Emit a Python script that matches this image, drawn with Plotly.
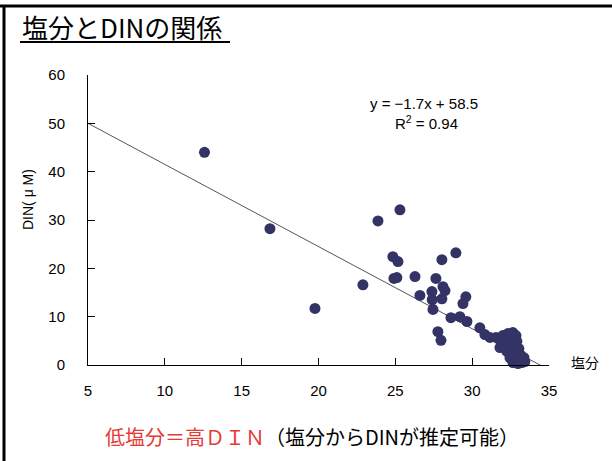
import plotly.graph_objects as go

# Salinity vs. dissolved inorganic nitrogen (DIN) observations
salinity = [
    12.58, 16.84, 19.77, 22.89, 23.87, 25.30, 24.84, 25.17, 24.91, 25.10,
    26.28, 26.60, 27.64, 28.03, 28.94, 28.10, 28.23, 27.38, 27.40, 28.03,
    27.45, 29.59, 29.40, 27.77, 27.97, 28.62, 29.20, 29.66, 30.50, 30.83,
    31.16, 31.55, 31.81, 32.00, 32.33, 32.65, 32.85, 32.20, 32.53, 32.91,
    32.07, 32.39, 32.72, 33.04, 32.26, 32.59, 32.91, 33.17, 32.46, 32.78,
    33.11, 33.37, 32.65, 32.98, 33.24, 32.33, 31.81, 33.43,
]
din = [
    44.0, 28.2, 11.7, 16.6, 29.8, 32.1, 22.4, 21.4, 17.9, 18.1,
    18.3, 14.4, 17.9, 21.8, 23.2, 16.2, 15.4, 15.2, 13.5, 13.7,
    11.5, 14.1, 12.7, 6.9, 5.1, 9.8, 10.0, 9.0, 7.7, 6.3,
    5.7, 5.7, 5.1, 6.1, 6.5, 6.7, 6.1, 5.1, 5.3, 4.9,
    4.0, 3.8, 4.0, 3.4, 2.8, 2.8, 2.4, 2.0, 1.5, 1.1,
    0.9, 1.5, 0.5, 0.3, 0.5, 4.2, 3.6, 0.7,
]

# Linear fit reported on the chart
slope = -1.7
intercept = 58.5
fit_x = [5, 35]
fit_y = [slope * v + intercept for v in fit_x]

x_ticks = [5, 10, 15, 20, 25, 30, 35]
y_ticks = [0, 10, 20, 30, 40, 50, 60]

W, H = 612, 461
ML, MR, MT, MB = 88, 63, 75, 96
PW, PH = W - ML - MR, H - MT - MB


def fx(px):
    return (px - ML) / PW


def fy(py):
    return (H - MB - py) / PH


fig = go.Figure()

fig.add_trace(go.Scatter(
    x=fit_x, y=fit_y, mode="lines",
    line=dict(color="#555555", width=1),
    hoverinfo="skip", showlegend=False,
))

fig.add_trace(go.Scatter(
    x=salinity, y=din, mode="markers",
    marker=dict(color="#333366", size=11, line=dict(width=0)),
    cliponaxis=False, showlegend=False,
))

tick_font = dict(family="Liberation Sans, Arial, sans-serif", size=15, color="#000000")

fig.update_xaxes(
    range=[5, 35], tickvals=x_ticks, ticks="inside", ticklen=7,
    tickcolor="#000000", showline=True, linecolor="#000000", linewidth=1,
    showgrid=False, zeroline=False, tickfont=tick_font, ticklabelstandoff=12,
)
fig.update_yaxes(
    range=[0, 60], tickvals=y_ticks, ticks="inside", ticklen=7,
    tickcolor="#000000", showline=True, linecolor="#000000", linewidth=1,
    showgrid=False, zeroline=False, tickfont=tick_font, ticklabelstandoff=19,
)

jp = "Noto Sans CJK JP, sans-serif"
annotations = [
    dict(text="塩分とDINの関係", x=fx(20), y=fy(26), xanchor="left", yanchor="middle",
         font=dict(family=jp, size=26, color="#000000")),
    dict(text="y = −1.7x + 58.5", x=fx(424), y=fy(103), xanchor="center", yanchor="middle",
         font=dict(family="Liberation Sans, Arial, sans-serif", size=15, color="#000000")),
    dict(text="R<sup>2</sup> = 0.94", x=fx(426), y=fy(122), xanchor="center", yanchor="middle",
         font=dict(family="Liberation Sans, Arial, sans-serif", size=15, color="#000000")),
    dict(text="DIN( μ M)", x=fx(28), y=fy(200), xanchor="center", yanchor="middle",
         textangle=-90,
         font=dict(family="Liberation Sans, Noto Sans CJK JP, sans-serif", size=14, color="#000000")),
    dict(text="塩分", x=fx(585), y=fy(362), xanchor="center", yanchor="middle",
         font=dict(family=jp, size=14, color="#000000")),
    dict(text="<span style='color:#E53935'>低塩分＝高ＤＩＮ</span>（塩分からDINが推定可能）",
         x=fx(312), y=fy(436), xanchor="center", yanchor="middle",
         font=dict(family=jp, size=20, color="#000000")),
]
for a in annotations:
    a.update(xref="paper", yref="paper", showarrow=False)

shapes = [
    # frame: top and left rules
    dict(type="line", xref="paper", yref="paper", x0=fx(0), x1=fx(W), y0=fy(6), y1=fy(6),
         line=dict(color="#000000", width=3)),
    dict(type="line", xref="paper", yref="paper", x0=fx(4), x1=fx(4), y0=fy(5), y1=fy(H),
         line=dict(color="#000000", width=3)),
    # title underline
    dict(type="line", xref="paper", yref="paper", x0=fx(20), x1=fx(230), y0=fy(42), y1=fy(42),
         line=dict(color="#000000", width=2)),
]

fig.update_layout(
    width=W, height=H, autosize=False,
    margin=dict(l=ML, r=MR, t=MT, b=MB, pad=0),
    paper_bgcolor="#FFFFFF", plot_bgcolor="#FFFFFF",
    annotations=annotations, shapes=shapes,
    showlegend=False,
)

fig.write_html("out.html")
